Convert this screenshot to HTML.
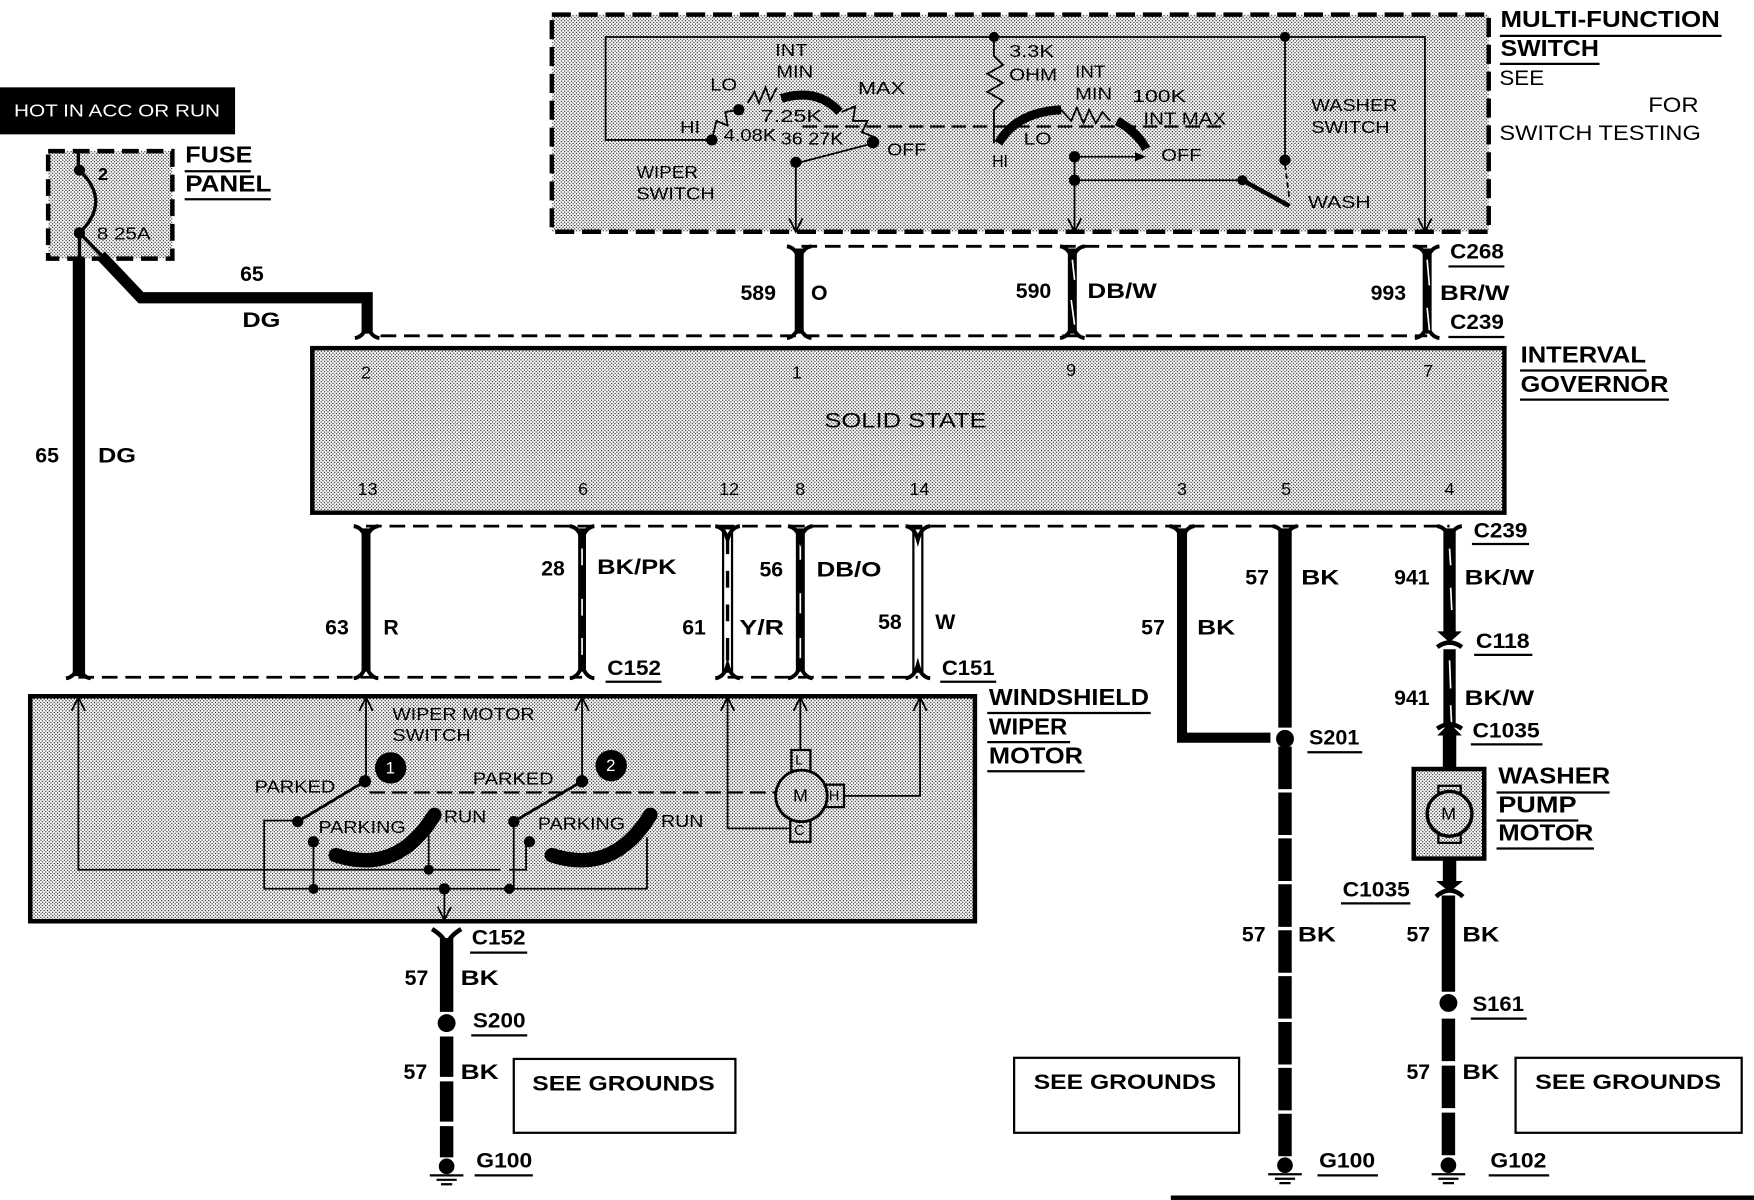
<!DOCTYPE html>
<html><head><meta charset="utf-8"><style>
html,body{margin:0;padding:0;background:#fff;width:1754px;height:1200px;overflow:hidden}
svg{display:block}
text{font-family:"Liberation Sans",sans-serif;fill:#000;transform:translate(-0.5px,-1px)}
.b{font-weight:bold;font-size:19px}
.l{font-weight:bold;font-size:21px}
.n{font-size:16px}
.t{fill:none;stroke:#000;stroke-width:1.6}
.m{fill:none;stroke:#000;stroke-width:3}
.d{fill:none;stroke:#000;stroke-width:2.5;stroke-dasharray:14 7}
.w{fill:none;stroke:#000;stroke-width:8}
.s{fill:none;stroke:#fff;stroke-width:1.5}
.u{stroke:#000;stroke-width:2}
</style></head><body>
<svg xmlns="http://www.w3.org/2000/svg" width="1754" height="1200" viewBox="0 0 1567 1072">
<defs>
<pattern id="p" patternUnits="userSpaceOnUse" width="3" height="3">
<rect width="3" height="3" fill="#fff"/>
<rect x="0" y="0" width="1" height="1" fill="#000"/>
<rect x="1.5" y="1.5" width="1" height="1" fill="#000"/>
</pattern>
<path id="yt" d="M-11,0 Q-3,1 0,12 Q3,1 11,0" fill="none" stroke="#000" stroke-width="3.5"/>
<path id="yb" d="M-11,0 Q-3,-1 0,-12 Q3,-1 11,0" fill="none" stroke="#000" stroke-width="3.5"/>
<path id="ar" d="M-6,12 L0,0 L6,12" fill="none" stroke="#000" stroke-width="1.6"/>
<path id="ad" d="M-6,-12 L0,0 L6,-12" fill="none" stroke="#000" stroke-width="1.6"/>
<g id="gnd"><circle cx="0" cy="0" r="7" fill="#000"/><path d="M-15,8 H15 M-9,12 H9 M-5,16 H5" stroke="#000" stroke-width="2"/></g>
</defs>
<rect width="1567" height="1072" fill="#fff"/>

<!-- Hot bar -->
<rect x="0" y="78" width="210" height="42" fill="#000"/>
<text x="13" y="105" font-size="15.5" style="fill:#fff" textLength="184" lengthAdjust="spacingAndGlyphs">HOT IN ACC OR RUN</text>

<!-- Fuse panel -->
<rect x="43" y="135" width="111" height="96" fill="url(#p)"/>
<rect x="43" y="135" width="111" height="96" fill="none" stroke="#000" stroke-width="4" stroke-dasharray="15 7"/>
<path d="M70,134 V152 M71,152 Q100,180 71,208 M71,208 V230 M71,208 L100,238" class="m"/>
<circle cx="71" cy="152" r="5"/><circle cx="71" cy="208" r="5"/>
<text x="88" y="162" class="n" font-weight="bold">2</text>
<text x="87" y="215" class="n" textLength="48" lengthAdjust="spacingAndGlyphs">8 25A</text>
<text x="166" y="146" class="l" textLength="60" lengthAdjust="spacingAndGlyphs">FUSE</text>
<line x1="165" y1="153" x2="224" y2="153" class="u"/>
<text x="166" y="172" class="l" textLength="77" lengthAdjust="spacingAndGlyphs">PANEL</text>
<line x1="165" y1="178" x2="242" y2="178" class="u"/>

<!-- Left wires -->
<path d="M70.500,230 V604" stroke="#000" stroke-width="11" fill="none"/>
<path d="M90,228 L126,266 H328 V298" fill="none" stroke="#000" stroke-width="10"/>
<use href="#yb" x="328" y="302"/>
<text x="215" y="252" class="b">65</text>
<text x="217" y="293" class="b" textLength="34" lengthAdjust="spacingAndGlyphs">DG</text>
<text x="32" y="414" class="b">65</text>
<text x="88" y="414" class="b" textLength="34" lengthAdjust="spacingAndGlyphs">DG</text>

<!-- Multi-function switch -->
<rect x="493" y="13" width="837" height="194" fill="url(#p)"/>
<rect x="493" y="13" width="837" height="194" fill="none" stroke="#000" stroke-width="4" stroke-dasharray="17 7"/>
<path d="M636,125 H541 V33 H1273 V207" class="t" stroke-width="2"/>
<circle cx="888" cy="33" r="4.500"/><circle cx="1148" cy="33" r="4.500"/>
<path d="M888,33 V50 L896,58 L882,66 L896,74 L882,82 L896,90 L888,98 V128" class="t"/>
<path d="M1148,33 V143" class="t"/><circle cx="1148" cy="143" r="5"/>
<path d="M1148,147 L1152,178" class="t" stroke-dasharray="5 3"/>
<circle cx="636" cy="125" r="5"/>
<path d="M636,125 L640,108 L650,112 L648,100 L660,98" class="t"/>
<circle cx="660" cy="98" r="5"/>
<path d="M668,92 L674,82 L678,92 L684,78 L688,90 L694,78" class="t"/>
<path d="M698,88 Q730,78 750,100" fill="none" stroke="#000" stroke-width="8"/>
<path d="M752,100 L764,95 L762,108 L775,108 L770,118 L780,122" class="t"/>
<circle cx="780" cy="127" r="5.500"/>
<path d="M780,128 L711,146 V205" class="t" stroke-width="2"/>
<circle cx="711" cy="145" r="5"/>
<path d="M717,113 H1096" fill="none" stroke="#000" stroke-width="2" stroke-dasharray="13 6"/>
<path d="M892,128 Q908,100 948,98" fill="none" stroke="#000" stroke-width="8"/>
<path d="M948,98 L957,108 L962,96 L968,110 L973,98 L979,110 L985,100 L992,108" class="t"/>
<path d="M998,108 Q1016,118 1024,133" fill="none" stroke="#000" stroke-width="8"/>
<circle cx="960" cy="140" r="5"/><circle cx="960" cy="161" r="5"/>
<path d="M960,140 V205 M960,140 H1020" class="t" stroke-width="2"/>
<path d="M1014,136 L1024,140 L1014,144 Z"/>
<path d="M960,161 H1110" class="t" stroke-width="2.500"/>
<circle cx="1110" cy="161" r="4.500"/>
<path d="M1110,161 L1152,184" fill="none" stroke="#000" stroke-width="4"/>
<use href="#ad" x="711" y="207"/><use href="#ad" x="960" y="207"/><use href="#ad" x="1273" y="207"/>
<text x="693" y="51" class="n" textLength="29" lengthAdjust="spacingAndGlyphs">INT</text>
<text x="694" y="70" class="n" textLength="33" lengthAdjust="spacingAndGlyphs">MIN</text>
<text x="635" y="82" class="n" textLength="24" lengthAdjust="spacingAndGlyphs">LO</text>
<text x="767" y="85" class="n" textLength="42" lengthAdjust="spacingAndGlyphs">MAX</text>
<text x="680" y="110" class="n" textLength="55" lengthAdjust="spacingAndGlyphs">7.25K</text>
<text x="608" y="120" class="n" textLength="18" lengthAdjust="spacingAndGlyphs">HI</text>
<text x="647" y="127" class="n" textLength="47" lengthAdjust="spacingAndGlyphs">4.08K</text>
<text x="698" y="130" class="n" textLength="56" lengthAdjust="spacingAndGlyphs">36 27K</text>
<text x="793" y="140" class="n" textLength="35" lengthAdjust="spacingAndGlyphs">OFF</text>
<text x="569" y="160" class="n" textLength="55" lengthAdjust="spacingAndGlyphs">WIPER</text>
<text x="569" y="179" class="n" textLength="70" lengthAdjust="spacingAndGlyphs">SWITCH</text>
<text x="902" y="52" class="n" textLength="40" lengthAdjust="spacingAndGlyphs">3.3K</text>
<text x="902" y="73" class="n" textLength="43" lengthAdjust="spacingAndGlyphs">OHM</text>
<text x="961" y="70" class="n" textLength="27" lengthAdjust="spacingAndGlyphs">INT</text>
<text x="961" y="90" class="n" textLength="33" lengthAdjust="spacingAndGlyphs">MIN</text>
<text x="1012" y="92" class="n" textLength="48" lengthAdjust="spacingAndGlyphs">100K</text>
<text x="1022" y="112" class="n" textLength="74" lengthAdjust="spacingAndGlyphs">INT MAX</text>
<text x="915" y="130" class="n" textLength="25" lengthAdjust="spacingAndGlyphs">LO</text>
<text x="887" y="150" class="n" textLength="14" lengthAdjust="spacingAndGlyphs">HI</text>
<text x="1038" y="145" class="n" textLength="36" lengthAdjust="spacingAndGlyphs">OFF</text>
<text x="1172" y="100" class="n" textLength="77" lengthAdjust="spacingAndGlyphs">WASHER</text>
<text x="1172" y="120" class="n" textLength="70" lengthAdjust="spacingAndGlyphs">SWITCH</text>
<text x="1169" y="187" class="n" textLength="56" lengthAdjust="spacingAndGlyphs">WASH</text>
<text x="1341" y="25" class="l" textLength="196" lengthAdjust="spacingAndGlyphs">MULTI-FUNCTION</text>
<line x1="1340" y1="32" x2="1538" y2="32" class="u"/>
<text x="1341" y="51" class="l" textLength="88" lengthAdjust="spacingAndGlyphs">SWITCH</text>
<line x1="1340" y1="57" x2="1429" y2="57" class="u"/>
<text x="1340" y="77" class="b" textLength="40" lengthAdjust="spacingAndGlyphs" style="font-weight:normal">SEE</text>
<text x="1473" y="101" class="b" textLength="45" lengthAdjust="spacingAndGlyphs" style="font-weight:normal">FOR</text>
<text x="1340" y="126" class="b" textLength="180" lengthAdjust="spacingAndGlyphs" style="font-weight:normal">SWITCH TESTING</text>

<!-- Upper connectors -->
<path d="M716,220 H1275" class="d"/>
<path d="M340,300 H1275" class="d"/>
<path d="M714,222 V298 M958,222 V298 M1275,222 V298" class="w"/>
<use href="#yt" x="714" y="220"/><use href="#yb" x="714" y="302"/>
<use href="#yt" x="958" y="220"/><use href="#yb" x="958" y="302"/>
<use href="#yt" x="1275" y="220"/><use href="#yb" x="1275" y="302"/>
<path d="M958,232 L960,250 M957,268 L960,290 M1275,232 L1277,255 M1275,275 L1277,295" class="s"/>
<text x="662" y="269" class="b">589</text>
<text x="725" y="269" class="b">O</text>
<text x="908" y="267" class="b">590</text>
<text x="972" y="267" class="b" textLength="62" lengthAdjust="spacingAndGlyphs">DB/W</text>
<text x="1225" y="269" class="b">993</text>
<text x="1287" y="269" class="b" textLength="62" lengthAdjust="spacingAndGlyphs">BR/W</text>
<text x="1296" y="232" class="b" textLength="48" lengthAdjust="spacingAndGlyphs">C268</text>
<line x1="1294" y1="238" x2="1344" y2="238" class="u"/>
<text x="1296" y="295" class="b" textLength="48" lengthAdjust="spacingAndGlyphs">C239</text>
<line x1="1294" y1="301" x2="1344" y2="301" class="u"/>

<!-- Interval governor -->
<rect x="279" y="311" width="1065" height="147" fill="url(#p)" stroke="#000" stroke-width="4"/>
<text x="737" y="383" class="n" textLength="145" lengthAdjust="spacingAndGlyphs" style="font-size:19px">SOLID STATE</text>
<text x="323" y="339" class="n">2</text><text x="708" y="339" class="n">1</text><text x="953" y="337" class="n">9</text><text x="1272" y="338" class="n">7</text>
<text x="320" y="443" class="n">13</text><text x="517" y="443" class="n">6</text><text x="643" y="443" class="n">12</text><text x="711" y="443" class="n">8</text><text x="813" y="443" class="n">14</text><text x="1052" y="443" class="n">3</text><text x="1145" y="443" class="n">5</text><text x="1291" y="443" class="n">4</text>
<text x="1359" y="325" class="l" textLength="112" lengthAdjust="spacingAndGlyphs">INTERVAL</text>
<line x1="1358" y1="331" x2="1471" y2="331" class="u"/>
<text x="1359" y="351" class="l" textLength="132" lengthAdjust="spacingAndGlyphs">GOVERNOR</text>
<line x1="1358" y1="357" x2="1491" y2="357" class="u"/>

<!-- Lower connectors -->
<path d="M327,470 H1295" class="d"/>
<path d="M70,605 H520 M650,605 H820" class="d"/>
<path d="M327,472 V600 M715,472 V600" class="w"/>
<path d="M520,472 V600" fill="none" stroke="#000" stroke-width="7"/>
<path d="M520,490 V505 M520,535 V550 M520,570 V585 M715,485 V500 M715,530 V548 M715,570 V588" class="s" stroke-width="1"/>
<rect x="646" y="472" width="8" height="128" fill="#fff" stroke="#000" stroke-width="2"/>
<path d="M650,480 V495 M650,510 V525 M650,540 V555 M650,570 V590" stroke="#000" stroke-width="3"/>
<rect x="816" y="472" width="8" height="128" fill="#fff" stroke="#000" stroke-width="2"/>
<g>
<use href="#yt" x="327" y="470"/><use href="#yt" x="520" y="470"/><use href="#yt" x="650" y="470"/><use href="#yt" x="715" y="470"/><use href="#yt" x="820" y="470"/><use href="#yt" x="1056" y="470"/><use href="#yt" x="1148" y="470"/><use href="#yt" x="1295" y="470"/>
<use href="#yb" x="70" y="606"/><use href="#yb" x="327" y="606"/><use href="#yb" x="520" y="606"/><use href="#yb" x="650" y="606"/><use href="#yb" x="715" y="606"/><use href="#yb" x="820" y="606"/>
</g>
<text x="291" y="568" class="b">63</text><text x="343" y="568" class="b">R</text>
<text x="484" y="515" class="b">28</text><text x="534" y="514" class="b" textLength="71" lengthAdjust="spacingAndGlyphs">BK/PK</text>
<text x="610" y="568" class="b">61</text><text x="661" y="568" class="b" textLength="40" lengthAdjust="spacingAndGlyphs">Y/R</text>
<text x="679" y="516" class="b">56</text><text x="730" y="516" class="b" textLength="58" lengthAdjust="spacingAndGlyphs">DB/O</text>
<text x="785" y="563" class="b">58</text><text x="836" y="563" class="b">W</text>
<text x="543" y="604" class="b" textLength="48" lengthAdjust="spacingAndGlyphs">C152</text>
<line x1="541" y1="609" x2="591" y2="609" class="u"/>
<text x="842" y="604" class="b" textLength="47" lengthAdjust="spacingAndGlyphs">C151</text>
<line x1="840" y1="609" x2="890" y2="609" class="u"/>

<!-- Right wires -->
<path d="M1056,472 V659 H1135" fill="none" stroke="#000" stroke-width="9"/>
<path d="M1148,472 V650" fill="none" stroke="#000" stroke-width="12"/>
<circle cx="1148" cy="660" r="8"/>
<path d="M1148,667 V1034" fill="none" stroke="#000" stroke-width="12" stroke-dasharray="38 3"/>
<use href="#gnd" x="1148" y="1041"/>
<text x="1020" y="568" class="b">57</text><text x="1070" y="568" class="b" textLength="34" lengthAdjust="spacingAndGlyphs">BK</text>
<text x="1113" y="523" class="b">57</text><text x="1163" y="523" class="b" textLength="34" lengthAdjust="spacingAndGlyphs">BK</text>
<text x="1170" y="666" class="b" textLength="45" lengthAdjust="spacingAndGlyphs">S201</text>
<line x1="1168" y1="672" x2="1217" y2="672" class="u"/>
<text x="1110" y="842" class="b">57</text><text x="1160" y="842" class="b" textLength="34" lengthAdjust="spacingAndGlyphs">BK</text>
<text x="1179" y="1044" class="b" textLength="50" lengthAdjust="spacingAndGlyphs">G100</text>
<line x1="1177" y1="1050" x2="1231" y2="1050" class="u"/>

<path d="M1295,472 V566" fill="none" stroke="#000" stroke-width="11"/>
<path d="M1295,580 V650" fill="none" stroke="#000" stroke-width="11"/>
<path d="M1295,490 L1296,505 M1296,525 L1297,545 M1295,590 L1296,615 M1296,630 L1297,650" class="s"/>
<path d="M1284,564 H1306 L1295,574 Z"/><path d="M1284,578 Q1295,570 1306,578" fill="none" stroke="#000" stroke-width="4"/>
<path d="M1284,657 L1295,646 L1306,657 Z"/><path d="M1284,651 Q1295,643 1306,651" fill="none" stroke="#000" stroke-width="4"/>
<path d="M1295,657 V687" fill="none" stroke="#000" stroke-width="12"/>
<rect x="1263" y="687" width="63" height="80" fill="url(#p)" stroke="#000" stroke-width="4"/>
<rect x="1285" y="702" width="20" height="7" fill="none" stroke="#000" stroke-width="2"/>
<rect x="1285" y="746" width="20" height="7" fill="none" stroke="#000" stroke-width="2"/>
<circle cx="1295" cy="727" r="20" fill="url(#p)" stroke="#000" stroke-width="3"/>
<text x="1288" y="733" class="n">M</text>
<path d="M1295,767 V789 " fill="none" stroke="#000" stroke-width="12"/>
<path d="M1283,787 H1307 L1295,797 Z"/><path d="M1283,801 Q1295,790 1307,801" fill="none" stroke="#000" stroke-width="4"/>
<path d="M1294,800 V886" fill="none" stroke="#000" stroke-width="12"/>
<circle cx="1294" cy="896" r="8"/>
<path d="M1294,910 V1034" fill="none" stroke="#000" stroke-width="12" stroke-dasharray="38 4"/>
<use href="#gnd" x="1294" y="1041"/>
<text x="1246" y="523" class="b">941</text><text x="1309" y="523" class="b" textLength="62" lengthAdjust="spacingAndGlyphs">BK/W</text>
<text x="1246" y="631" class="b">941</text><text x="1309" y="631" class="b" textLength="62" lengthAdjust="spacingAndGlyphs">BK/W</text>
<text x="1317" y="481" class="b" textLength="48" lengthAdjust="spacingAndGlyphs">C239</text>
<line x1="1315" y1="486" x2="1366" y2="486" class="u"/>
<text x="1319" y="580" class="b" textLength="48" lengthAdjust="spacingAndGlyphs">C118</text>
<line x1="1317" y1="585" x2="1369" y2="585" class="u"/>
<text x="1316" y="660" class="b" textLength="60" lengthAdjust="spacingAndGlyphs">C1035</text>
<line x1="1314" y1="665" x2="1378" y2="665" class="u"/>
<text x="1200" y="802" class="b" textLength="60" lengthAdjust="spacingAndGlyphs">C1035</text>
<line x1="1198" y1="807" x2="1260" y2="807" class="u"/>
<text x="1339" y="701" class="l" textLength="100" lengthAdjust="spacingAndGlyphs">WASHER</text>
<line x1="1337" y1="708" x2="1438" y2="708" class="u"/>
<text x="1339" y="727" class="l" textLength="70" lengthAdjust="spacingAndGlyphs">PUMP</text>
<line x1="1337" y1="733" x2="1410" y2="733" class="u"/>
<text x="1339" y="752" class="l" textLength="85" lengthAdjust="spacingAndGlyphs">MOTOR</text>
<line x1="1337" y1="758" x2="1424" y2="758" class="u"/>
<text x="1257" y="842" class="b">57</text><text x="1307" y="842" class="b" textLength="33" lengthAdjust="spacingAndGlyphs">BK</text>
<text x="1316" y="904" class="b" textLength="46" lengthAdjust="spacingAndGlyphs">S161</text>
<line x1="1314" y1="910" x2="1364" y2="910" class="u"/>
<text x="1257" y="965" class="b">57</text><text x="1307" y="965" class="b" textLength="33" lengthAdjust="spacingAndGlyphs">BK</text>
<text x="1332" y="1044" class="b" textLength="50" lengthAdjust="spacingAndGlyphs">G102</text>
<line x1="1330" y1="1050" x2="1384" y2="1050" class="u"/>

<!-- Windshield wiper motor -->
<rect x="27" y="622" width="844" height="201" fill="url(#p)" stroke="#000" stroke-width="4"/>
<path d="M70,622 V777 H447 M455,777 H470 V752" class="t" stroke-width="2"/>
<path d="M327,622 V698 M520,622 V698" class="t" stroke-width="2"/>
<use href="#ar" x="70" y="623"/><use href="#ar" x="327" y="623"/><use href="#ar" x="520" y="623"/><use href="#ar" x="650" y="623"/><use href="#ar" x="715" y="623"/><use href="#ar" x="822" y="623"/>
<circle cx="326" cy="698" r="5.500"/><circle cx="520" cy="698" r="5.500"/>
<path d="M326,698 L266,734 M520,698 L459,734" fill="none" stroke="#000" stroke-width="2.500"/>
<circle cx="266" cy="734" r="5"/><circle cx="459" cy="734" r="5"/>
<path d="M266,733 H236 V794 H578 V748" class="t" stroke-width="2"/>
<circle cx="280" cy="752" r="5"/><circle cx="473" cy="752" r="5"/>
<path d="M280,752 V794 M459,734 V794 M383,730 V777" class="t" stroke-width="2"/>
<circle cx="280" cy="794" r="4.500"/><circle cx="397" cy="794" r="5"/><circle cx="455" cy="794" r="4.500"/><circle cx="383" cy="777" r="4.500"/>
<path d="M397,794 V822" class="t"/><use href="#ad" x="397" y="822"/>
<path d="M300,764 Q355,782 388,728" fill="none" stroke="#000" stroke-width="13" stroke-linecap="round"/>
<path d="M493,764 Q548,782 581,728" fill="none" stroke="#000" stroke-width="13" stroke-linecap="round"/>
<path d="M330,708 H693" fill="none" stroke="#000" stroke-width="2" stroke-dasharray="14 6"/>
<circle cx="349" cy="686" r="14"/><text x="345" y="692" class="n" style="fill:#fff;font-size:15px">1</text>
<circle cx="546" cy="684" r="14"/><text x="542" y="690" class="n" style="fill:#fff;font-size:15px">2</text>
<path d="M650,622 V740 H706" class="t" stroke-width="2"/>
<path d="M715,622 V670 M822,622 V711 H752" class="t" stroke-width="2"/>
<rect x="707" y="670" width="17" height="21" fill="none" stroke="#000" stroke-width="2"/>
<rect x="738" y="701" width="16" height="20" fill="url(#p)" stroke="#000" stroke-width="2"/>
<rect x="706" y="732" width="18" height="20" fill="url(#p)" stroke="#000" stroke-width="2"/>
<ellipse cx="716" cy="711" rx="23" ry="23" fill="url(#p)" stroke="#000" stroke-width="2.500"/>
<text x="709" y="717" class="n">M</text>
<text x="711" y="684" class="n" style="font-size:12px">L</text>
<text x="741" y="716" class="n" style="font-size:13px">H</text>
<text x="710" y="747" class="n" style="font-size:13px">C</text>
<text x="351" y="644" class="n" textLength="127" lengthAdjust="spacingAndGlyphs">WIPER MOTOR</text>
<text x="351" y="663" class="n" textLength="70" lengthAdjust="spacingAndGlyphs">SWITCH</text>
<text x="228" y="709" class="n" textLength="72" lengthAdjust="spacingAndGlyphs">PARKED</text>
<text x="423" y="702" class="n" textLength="72" lengthAdjust="spacingAndGlyphs">PARKED</text>
<text x="285" y="745" class="n" textLength="78" lengthAdjust="spacingAndGlyphs">PARKING</text>
<text x="481" y="742" class="n" textLength="78" lengthAdjust="spacingAndGlyphs">PARKING</text>
<text x="397" y="736" class="n" textLength="38" lengthAdjust="spacingAndGlyphs">RUN</text>
<text x="591" y="740" class="n" textLength="38" lengthAdjust="spacingAndGlyphs">RUN</text>
<text x="884" y="631" class="l" textLength="143" lengthAdjust="spacingAndGlyphs">WINDSHIELD</text>
<line x1="882" y1="637" x2="1028" y2="637" class="u"/>
<text x="884" y="657" class="l" textLength="70" lengthAdjust="spacingAndGlyphs">WIPER</text>
<line x1="882" y1="663" x2="956" y2="663" class="u"/>
<text x="884" y="683" class="l" textLength="84" lengthAdjust="spacingAndGlyphs">MOTOR</text>
<line x1="882" y1="689" x2="969" y2="689" class="u"/>

<!-- Lower left wire -->
<path d="M386,830 Q396,836 399,844 Q402,836 412,830" fill="none" stroke="#000" stroke-width="4"/>
<path d="M399,838 V904" fill="none" stroke="#000" stroke-width="12"/>
<circle cx="399" cy="914" r="8"/>
<path d="M399,926 V1034" fill="none" stroke="#000" stroke-width="12" stroke-dasharray="36 4"/>
<use href="#gnd" x="399" y="1042"/>
<text x="422" y="845" class="b" textLength="48" lengthAdjust="spacingAndGlyphs">C152</text>
<line x1="420" y1="851" x2="471" y2="851" class="u"/>
<text x="362" y="881" class="b">57</text><text x="412" y="881" class="b" textLength="34" lengthAdjust="spacingAndGlyphs">BK</text>
<text x="423" y="919" class="b" textLength="47" lengthAdjust="spacingAndGlyphs">S200</text>
<line x1="421" y1="925" x2="471" y2="925" class="u"/>
<text x="361" y="965" class="b">57</text><text x="412" y="965" class="b" textLength="34" lengthAdjust="spacingAndGlyphs">BK</text>
<text x="426" y="1044" class="b" textLength="50" lengthAdjust="spacingAndGlyphs">G100</text>
<line x1="424" y1="1050" x2="476" y2="1050" class="u"/>

<!-- See grounds -->
<rect x="459" y="946" width="198" height="66" fill="#fff" stroke="#000" stroke-width="2"/>
<text x="476" y="975" class="b" textLength="163" lengthAdjust="spacingAndGlyphs">SEE GROUNDS</text>
<rect x="906" y="945" width="201" height="67" fill="#fff" stroke="#000" stroke-width="2"/>
<text x="924" y="974" class="b" textLength="163" lengthAdjust="spacingAndGlyphs">SEE GROUNDS</text>
<rect x="1354" y="945" width="202" height="67" fill="#fff" stroke="#000" stroke-width="2"/>
<text x="1372" y="974" class="b" textLength="166" lengthAdjust="spacingAndGlyphs">SEE GROUNDS</text>

<rect x="1046" y="1068" width="521" height="4" fill="#000"/>
</svg>
</body></html>
